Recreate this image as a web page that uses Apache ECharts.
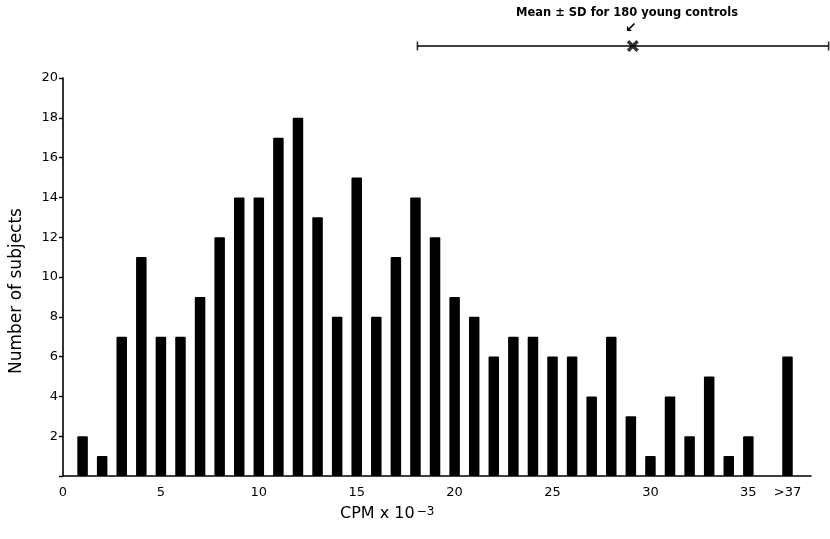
<!DOCTYPE html>
<html>
<head>
<meta charset="UTF-8">
<title>CPM histogram</title>
<script src="https://cdn.jsdelivr.net/npm/echarts@6/dist/echarts.min.js"></script>
<style>
  html, body { margin: 0; height: 100%; background: #fff; }
  #chart { width: 830px; height: 539px; }
</style>
</head>
<body>
<div id="chart"></div>
<script>
// bar positions (CPM x 10^-3) and counts; the last bar is the ">37" group
var cpm = [1, 2, 3, 4, 5, 6, 7, 8, 9, 10, 11, 12, 13, 14, 15, 16, 17, 18, 19, 20,
           21, 22, 23, 24, 25, 26, 27, 28, 29, 30, 31, 32, 33, 34, 35, 37];
var subjects = [2, 1, 7, 11, 7, 7, 9, 12, 14, 14, 17, 18, 13, 8, 15, 8, 11, 14, 12, 9,
                8, 6, 7, 7, 6, 6, 4, 7, 3, 1, 4, 2, 5, 1, 2, 6];

var xTickValues = [0, 5, 10, 15, 20, 25, 30, 35, 37];
var xTickLabels = ['0', '5', '10', '15', '20', '25', '30', '35', '>37'];

// mean +- SD of young controls
var sdLow = 18.1, sdMean = 29.1, sdHigh = 39.1;

var font = 'DejaVu Sans';
var xMax = 38.2;
var plotLeft = 63, plotW = 748, pageW = 830;
// top strip runs to the page edge with the same scale as the main plot
var topMax = xMax * (pageW - plotLeft) / plotW;
var chart = echarts.init(document.getElementById('chart'));

var barData = cpm.map(function (x, i) { return [x, subjects[i]]; });

chart.setOption({
  animation: false,
  textStyle: { fontFamily: font, color: '#000' },
  grid: [
    { left: plotLeft, width: plotW, top: 78, bottom: 63 },
    { left: plotLeft, right: 0, top: 40, height: 12 }
  ],
  xAxis: [{
    type: 'value', min: 0, max: xMax, interval: 1,
    axisLine: { lineStyle: { color: '#000', width: 1.6 } },
    axisTick: { show: false },
    splitLine: { show: false },
    axisLabel: {
      color: '#000', fontSize: 13, margin: 10,
      formatter: function (v) {
        var k = xTickValues.indexOf(v);
        return k < 0 ? '' : xTickLabels[k];
      }
    }
  }, {
    gridIndex: 1, type: 'value', min: 0, max: topMax, show: false
  }],
  yAxis: [{
    type: 'value', min: 0, max: 20, interval: 2,
    axisLine: { show: true, lineStyle: { color: '#000', width: 1.6 } },
    axisTick: { show: true, length: 4, lineStyle: { color: '#000', width: 1.4 } },
    splitLine: { show: false },
    axisLabel: {
      color: '#000', fontSize: 13, margin: 5,
      formatter: function (v) { return v === 0 ? '' : String(v); }
    }
  }, {
    gridIndex: 1, type: 'value', min: -1, max: 1, show: false
  }],
  series: [{
    type: 'bar',
    data: barData,
    barWidth: 10.5,
    itemStyle: { color: '#000', borderRadius: 1 }
  }, {
    type: 'line',
    xAxisIndex: 1, yAxisIndex: 1,
    data: [[sdLow, 0], [sdHigh, 0]],
    symbol: 'none',
    lineStyle: { color: '#000', width: 1.3 }
  }, {
    type: 'scatter',
    xAxisIndex: 1, yAxisIndex: 1,
    data: [[sdLow, 0], [sdHigh, 0]],
    symbol: 'rect', symbolSize: [1.6, 9],
    itemStyle: { color: '#000' }
  }, {
    type: 'scatter',
    xAxisIndex: 1, yAxisIndex: 1,
    data: [[sdMean, 0]],
    symbol: 'path://M0,2L2,0L5,3L8,0L10,2L7,5L10,8L8,10L5,7L2,10L0,8L3,5Z',
    symbolSize: 12,
    itemStyle: { color: '#000' }
  }],
  graphic: [{
    type: 'text', left: 516, top: 7,
    style: { text: 'Mean ± SD for 180 young controls', font: 'bold 11.5px "DejaVu Sans"', fill: '#000' }
  }, {
    type: 'text', left: 625, top: 21,
    style: { text: '↙', font: 'bold 14px "DejaVu Sans"', fill: '#000' }
  }, {
    type: 'text',
    x: 17, y: 291,
    rotation: Math.PI / 2,
    style: {
      text: 'Number of subjects', font: '17px "DejaVu Sans"', fill: '#000',
      align: 'center', verticalAlign: 'middle'
    }
  }, {
    type: 'text', left: 340, top: 506,
    style: {
      text: '{a|CPM x 10}{b|−3}',
      fill: '#000',
      rich: {
        a: { fontFamily: font, fontSize: 16, fill: '#000', verticalAlign: 'bottom' },
        b: { fontFamily: font, fontSize: 12, fill: '#000', verticalAlign: 'top', padding: [0, 0, 0, 2] }
      }
    }
  }]
});
</script>
</body>
</html>
